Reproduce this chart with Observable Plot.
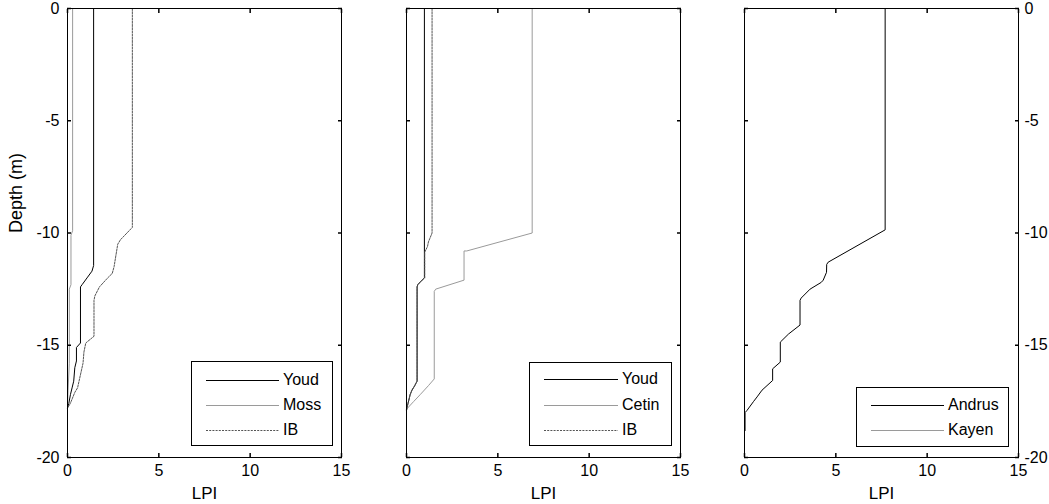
<!DOCTYPE html>
<html>
<head>
<meta charset="utf-8">
<script src="https://cdn.jsdelivr.net/npm/d3@7"></script>
<script src="https://cdn.jsdelivr.net/npm/@observablehq/plot@0.6"></script>
<style>
  html, body { margin: 0; padding: 0; background: #fff; }
  #wrap { position: relative; width: 1049px; height: 504px; overflow: hidden; font-family: "Liberation Sans", Arial, sans-serif; }
  .panel { position: absolute; top: 0; }
  .legend { position: absolute; border: 1px solid #000; background: #fff; box-sizing: border-box; }
  .legend svg { position: absolute; left: 0; top: 0; overflow: visible; }
  .legend span { position: absolute; font-size: 16px; line-height: 16px; color: #000; white-space: nowrap; }
</style>
</head>
<body>
<div id="wrap"></div>
<script>
// ---- data ----
const xTicks = [0, 5, 10, 15];
const yTicks = [0, -5, -10, -15, -20];

// Panel 1: Youd / Moss / IB
const p1YoudLPI   = [1.43, 1.43, 1.34, 1.07, 0.80, 0.71, 0.71, 0.49, 0.49, 0.40, 0.34, 0.25, 0.16, 0.07, 0];
const p1YoudDepth = [0, -11.45, -11.7, -12.0, -12.3, -12.4, -14.9, -15.1, -15.7, -16.0, -16.6, -16.9, -17.2, -17.6, -17.8];
const p1MossLPI   = [0.28, 0.28, 0.19, 0.19, 0.10, 0.10, 0.03, 0];
const p1MossDepth = [0, -9.9, -10.1, -12.3, -12.5, -15.8, -17.0, -17.7];
const p1IbLPI     = [3.55, 3.55, 2.9, 2.75, 2.55, 2.45, 2.2, 1.75, 1.5, 1.45, 1.45, 1.0, 0.9, 0.85, 0.55, 0.4, 0.15, 0];
const p1IbDepth   = [0, -9.75, -10.3, -10.5, -11.5, -11.8, -12.0, -12.4, -12.8, -13.0, -14.6, -14.9, -15.3, -15.8, -16.9, -17.1, -17.6, -17.8];

// Panel 2: Youd / Cetin / IB
const p2YoudLPI    = [0.98, 0.98, 0.85, 0.62, 0.58, 0.58, 0.45, 0.30, 0.20, 0.08, 0];
const p2YoudDepth  = [0, -12.0, -12.1, -12.3, -12.4, -16.6, -16.8, -17.0, -17.2, -17.6, -17.9];
const p2CetinLPI   = [6.88, 6.88, 3.3, 3.15, 3.15, 1.6, 1.52, 1.52, 1.2, 0.75, 0.4, 0];
const p2CetinDepth = [0, -10.0, -10.8, -10.8, -12.1, -12.5, -12.6, -16.5, -16.8, -17.2, -17.5, -17.85];
const p2IbLPI      = [1.40, 1.40, 1.20, 1.15, 1.0, 1.0, 0.85, 0.62, 0.58, 0.58, 0.45, 0.30, 0.20, 0.08, 0];
const p2IbDepth    = [0, -10.0, -10.4, -10.6, -10.85, -12.0, -12.1, -12.3, -12.4, -16.6, -16.8, -17.0, -17.2, -17.6, -17.9];

// Panel 3: Andrus / Kayen
const p3AndrusLPI   = [7.7, 7.7, 4.58, 4.5, 4.49, 4.31, 4.2, 3.59, 3.1, 3.04, 3.04, 2.41, 1.96, 1.96, 1.54, 1.54, 0.96, 0.69, 0.5, 0.14, 0.03, 0.03];
const p3AndrusDepth = [0, -9.86, -11.3, -11.4, -11.75, -12.1, -12.2, -12.5, -12.9, -13.0, -14.1, -14.5, -14.86, -15.75, -16.05, -16.57, -17.0, -17.3, -17.5, -17.9, -18.0, -18.8];
const p3KayenLPI    = [0, 0];
const p3KayenDepth  = [0, -18.8];

const p1Names = ["Youd", "Moss", "IB"];
const p2Names = ["Youd", "Cetin", "IB"];
const p3Names = ["Andrus", "Kayen"];

// ---- styles ----
const S = {
  black: {color: "#000", dash: null},
  gray:  {color: "#9a9a9a", dash: null},
  ib:    {color: "#555", dash: "2,1.2"}
};

const panels = [
  {left: 0, width: 350, ml: 67, mr: 9, yAxis: "left", yLabel: "Depth (m)",
   series: [
     {name: p1Names[0], lpi: p1YoudLPI, depth: p1YoudDepth, ...S.black},
     {name: p1Names[1], lpi: p1MossLPI, depth: p1MossDepth, ...S.gray},
     {name: p1Names[2], lpi: p1IbLPI, depth: p1IbDepth, ...S.ib}],
   legend: {left: 191, top: 361, width: 142, height: 85, x1: 14, x2: 87, tx: 91, rows: [18, 43, 68]}},
  {left: 345, width: 345, ml: 61, mr: 10, yAxis: null, yLabel: null,
   series: [
     {name: p2Names[0], lpi: p2YoudLPI, depth: p2YoudDepth, ...S.black},
     {name: p2Names[1], lpi: p2CetinLPI, depth: p2CetinDepth, ...S.gray},
     {name: p2Names[2], lpi: p2IbLPI, depth: p2IbDepth, ...S.ib}],
   legend: {left: 529, top: 362, width: 143, height: 84, x1: 14, x2: 88, tx: 92, rows: [16, 42, 67]}},
  {left: 690, width: 359, ml: 54, mr: 31, yAxis: "right", yLabel: null,
   series: [
     {name: p3Names[1], lpi: p3KayenLPI, depth: p3KayenDepth, ...S.gray},
     {name: p3Names[0], lpi: p3AndrusLPI, depth: p3AndrusDepth, ...S.black}],
   legendOrder: [1, 0],
   legend: {left: 856, top: 387, width: 153, height: 60, x1: 14, x2: 87, tx: 91, rows: [17, 42]}}
];

const fontFamily = '"Liberation Sans", Arial, sans-serif';
const wrap = d3.select("#wrap");

function drawPanel(cfg) {
  const marks = [];
  cfg.series.forEach(s => {
    marks.push(Plot.line(d3.range(s.lpi.length), {
      x: i => s.lpi[i], y: i => s.depth[i],
      stroke: s.color, strokeWidth: 1, strokeDasharray: s.dash
    }));
  });
  marks.push(Plot.frame({stroke: "#000"}));
  // inward ticks on all four sides (MATLAB style)
  ["bottom", "top"].forEach(a => marks.push(Plot.axisX({anchor: a, ticks: xTicks, tickSize: 4, inset: 4, strokeWidth: 1.5, tickFormat: () => "", label: null})));
  ["left", "right"].forEach(a => marks.push(Plot.axisY({anchor: a, ticks: yTicks, tickSize: 4, inset: 4, strokeWidth: 1.5, tickFormat: () => "", label: null})));
  marks.push(Plot.axisX({anchor: "bottom", ticks: xTicks, tickSize: 0, tickPadding: 7, tickFormat: d => String(d), label: null, fontSize: 16}));
  if (cfg.yAxis) marks.push(Plot.axisY({anchor: cfg.yAxis, ticks: yTicks, tickSize: 0, tickPadding: cfg.yAxis === "left" ? 8 : 6, tickFormat: d => String(d), label: null, fontSize: 16}));
  marks.push(Plot.text(["LPI"], {frameAnchor: "bottom", dy: 36, lineAnchor: "middle", fontSize: 17, text: d => d}));
  if (cfg.yLabel) marks.push(Plot.text([cfg.yLabel], {frameAnchor: "left", dx: -51, rotate: -90, lineAnchor: "middle", fontSize: 18, text: d => d}));
  return Plot.plot({
    width: cfg.width, height: 504,
    marginTop: 8, marginBottom: 47, marginLeft: cfg.ml, marginRight: cfg.mr,
    x: {domain: [0, 15]}, y: {domain: [-20, 0]},
    style: {fontFamily, color: "#000", background: "transparent", overflow: "visible"},
    marks
  });
}

panels.forEach(cfg => {
  const svg = drawPanel(cfg);
  const holder = wrap.append("div").attr("class", "panel").style("left", cfg.left + "px");
  holder.node().appendChild(svg);

  const L = cfg.legend;
  const box = wrap.append("div").attr("class", "legend")
    .style("left", L.left + "px").style("top", L.top + "px")
    .style("width", L.width + "px").style("height", L.height + "px");
  const order = cfg.legendOrder || cfg.series.map((_, i) => i);
  const lsvg = box.append("svg").attr("width", L.width).attr("height", L.height);
  order.forEach((si, r) => {
    const s = cfg.series[si];
    lsvg.append("line")
      .attr("x1", L.x1).attr("x2", L.x2).attr("y1", L.rows[r] + 0.5).attr("y2", L.rows[r] + 0.5)
      .attr("stroke", s.color).attr("stroke-width", 1)
      .attr("stroke-dasharray", s.dash);
    box.append("span").style("left", L.tx + "px").style("top", (L.rows[r] - 8) + "px").text(s.name);
  });
});
</script>
</body>
</html>
